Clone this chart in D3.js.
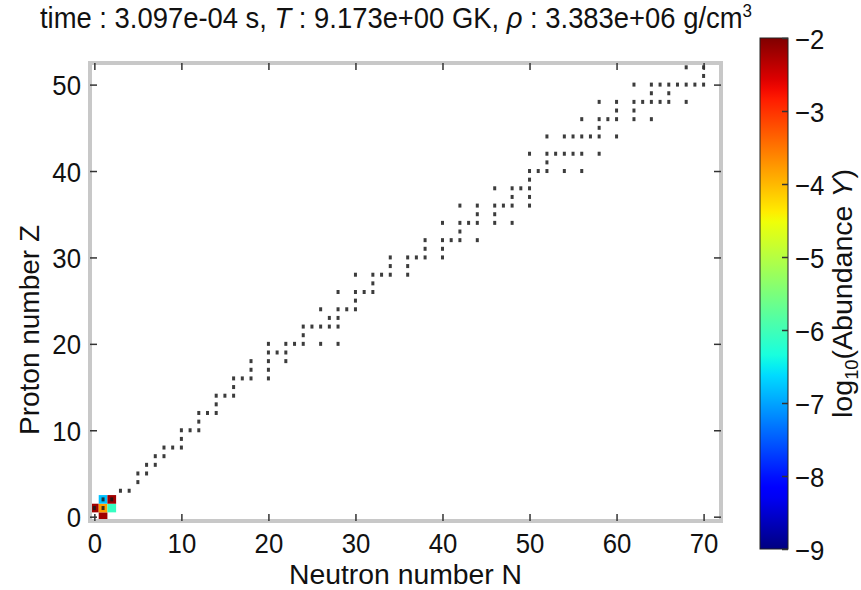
<!DOCTYPE html>
<html><head><meta charset="utf-8">
<script src="https://cdn.jsdelivr.net/npm/d3@7"></script>
<style>
body{margin:0;background:#fff}
svg{display:block}
text{font-family:"Liberation Sans",Arial,sans-serif;fill:#111}
</style>
</head><body><svg id="c" width="861" height="590"></svg>
<script>
// ---------------- data ----------------
const xTicks = [0,10,20,30,40,50,60,70];
const yTicks = [0,10,20,30,40,50];
const cbTicks = [-2,-3,-4,-5,-6,-7,-8,-9];

// light species with a visible abundance (log10 Y)
const cellNames = ["n","p","d","t","He3","He4"];
const cellN = [1,0,1,2,1,2];
const cellZ = [0,1,1,1,2,2];
const cellLogY = [-2.2,-2.2,-3.8,-6.1,-6.8,-2.2];

// network nuclei: proton number and the neutron numbers present
const netZ = [1,2,3,4,5,6,7,8,9,10,11,12,13,14,15,16,17,18,19,20,21,22,23,24,25,26,27,28,29,30,31,32,33,34,35,36,37,38,39,40,41,42,44,45,46,47,48,49,50,51,52];
const netN = [
 [0,1],[1,2],[3,4],[5],[5,6],[6,7],[7,8],[8,9,10],[10],[10,11,12],[12],[12,13,14],[14],[14,15,16],[16],
 [16,17,18,20],[18,20],[18,20,22],[20,21,22],[20,22,23,24,26,28],[24],[24,25,26,27,28],[27,28],[26,28,29,30],[30],
 [28,30,31,32],[32],[30,32,33,34,36],[34,36],[34,36,37,38,40],[38,40],[38,40,41,42,44],[42],[40,42,43,44,46,48],
 [44,46],[42,44,46,47,48,50],[48,50],[46,48,49,50],[50],[50,51,52,54,56],[52],[50,52,53,54,55,56,58],
 [52,54,55,56,57,58,60],[58],[56,58,59,60,62,64],[60,62],[58,60,62,63,64,65,66,68],[64,66],
 [62,64,65,66,67,68,69,70,72,74],[70,72],[68,70,72,74,76,78]
];

const titleStr = ["time : 3.097e-04 s, ", "T", " : 9.173e+00 GK, ", "\u03C1", " : 3.383e+06 g/cm", "3"];

// ---------------- layout ----------------
const svg = d3.select("#c");
const P = {l:90, r:721, t:63, b:521};
const x = d3.scaleLinear().domain([-0.5,72]).range([P.l,P.r]);
const y = d3.scaleLinear().domain([-0.5,52.5]).range([P.b,P.t]);
const cw = x(1)-x(0), ch = y(0)-y(1);

// jet colormap (matplotlib segment data)
const jr = d3.scaleLinear().domain([0,0.35,0.66,0.89,1]).range([0,0,1,1,0.5]).clamp(true);
const jg = d3.scaleLinear().domain([0,0.125,0.375,0.64,0.91,1]).range([0,0,1,1,0,0]).clamp(true);
const jb = d3.scaleLinear().domain([0,0.11,0.34,0.65,1]).range([0.5,1,1,0,0]).clamp(true);
const jet = t => d3.rgb(255*jr(t),255*jg(t),255*jb(t)).formatHex();
const norm = d3.scaleLinear().domain([-9,-2]).range([0,1]).clamp(true);

const defs = svg.append("defs");
defs.append("clipPath").attr("id","pc").append("rect")
  .attr("x",P.l).attr("y",P.t).attr("width",P.r-P.l).attr("height",P.b-P.t);

const cells = cellN.map((n,i)=>({N:n,Z:cellZ[i],v:cellLogY[i]}));
const nuclei = [];
netZ.forEach((z,i)=>netN[i].forEach(n=>nuclei.push({N:n,Z:z})));

const gd = svg.append("g").attr("clip-path","url(#pc)");
gd.selectAll("rect.cell").data(cells).join("rect").attr("class","cell")
  .attr("x",d=>x(d.N-0.5)).attr("y",d=>y(d.Z+0.5))
  .attr("width",cw).attr("height",ch).attr("fill",d=>jet(norm(d.v)));
gd.selectAll("rect.dot").data(nuclei).join("rect").attr("class","dot")
  .attr("x",d=>x(d.N)-1.5).attr("y",d=>y(d.Z)-2)
  .attr("width",3).attr("height",4).attr("fill","#1a1a1a").attr("opacity",0.85);

// frame
svg.append("rect").attr("x",P.l).attr("y",P.t).attr("width",P.r-P.l).attr("height",P.b-P.t)
  .attr("fill","none").attr("stroke","#c8c8c8").attr("stroke-width",4);

const FS = 28, SX = 0.92;
const LFS = 27, LSX = 1.05;
function styleAxis(g){
  g.select(".domain").remove();
  g.selectAll(".tick line").attr("stroke","#333").attr("stroke-width",1.5);
  g.selectAll(".tick text").attr("fill","#111").attr("font-size",FS).attr("font-family",'"Liberation Sans",Arial,sans-serif');
}
const fmt = d3.format("d");
const gxb = svg.append("g").attr("transform",`translate(0,${P.b})`)
  .call(d3.axisBottom(x).tickValues(xTicks).tickSize(-7).tickFormat(fmt));
styleAxis(gxb);
gxb.selectAll(".tick text").attr("y",0).attr("dy",null).attr("transform",`translate(0,32) scale(${SX},1)`);
const gxt = svg.append("g").attr("transform",`translate(0,${P.t})`)
  .call(d3.axisTop(x).tickValues(xTicks).tickSize(-7).tickFormat(""));
styleAxis(gxt);
const gyl = svg.append("g").attr("transform",`translate(${P.l},0)`)
  .call(d3.axisLeft(y).tickValues(yTicks).tickSize(-7).tickFormat(fmt));
styleAxis(gyl);
gyl.selectAll(".tick text").attr("x",0).attr("dy",null).attr("text-anchor","end")
  .attr("transform",`translate(-9,10) scale(${SX},1)`);
const gyr = svg.append("g").attr("transform",`translate(${P.r},0)`)
  .call(d3.axisRight(y).tickValues(yTicks).tickSize(-7).tickFormat(""));
styleAxis(gyr);

// axis labels
svg.append("text").attr("text-anchor","middle").attr("font-size",LFS)
  .attr("transform",`translate(${(P.l+P.r)/2},584) scale(${LSX},1)`).text("Neutron number N");
svg.append("text").attr("text-anchor","middle").attr("font-size",28)
  .attr("transform",`translate(39,330) rotate(-90)`).text("Proton number Z");

// title
const tt = svg.append("text").attr("font-size",29).attr("transform",`translate(40,28) scale(0.945,1)`);
tt.append("tspan").text(titleStr[0]);
tt.append("tspan").attr("font-style","italic").text(titleStr[1]);
tt.append("tspan").text(titleStr[2]);
tt.append("tspan").attr("font-style","italic").text(titleStr[3]);
tt.append("tspan").text(titleStr[4]);
tt.append("tspan").attr("font-size",18).attr("dy",-11).text(titleStr[5]);

// colorbar
const CB = {x:760, y:38, w:28, h:511};
const yc = d3.scaleLinear().domain([-9,-2]).range([CB.y+CB.h, CB.y]);
const grad = defs.append("linearGradient").attr("id","jetg").attr("x1",0).attr("y1",1).attr("x2",0).attr("y2",0);
d3.range(0,1.0001,0.02).forEach(t=>grad.append("stop").attr("offset",t).attr("stop-color",jet(t)));
svg.append("rect").attr("x",CB.x).attr("y",CB.y).attr("width",CB.w).attr("height",CB.h)
  .attr("fill","url(#jetg)").attr("stroke","#222").attr("stroke-width",1);
const gcb = svg.append("g").attr("transform",`translate(${CB.x+CB.w},0)`)
  .call(d3.axisRight(yc).tickValues(cbTicks).tickSize(-6).tickFormat(d3.format("d")));
styleAxis(gcb);
gcb.selectAll(".tick text").attr("x",0).attr("dy",null).attr("text-anchor","start")
  .attr("transform",`translate(7,10) scale(${SX},1)`);

const cl = svg.append("text").attr("text-anchor","middle").attr("font-size",LFS+1)
  .attr("transform",`translate(852,${CB.y+CB.h/2}) rotate(-90) scale(1.02,1)`);
cl.append("tspan").text("log");
cl.append("tspan").attr("font-size",18).attr("dy",6).text("10");
cl.append("tspan").attr("dy",-6).text("(Abundance ");
cl.append("tspan").attr("font-style","italic").text("Y");
cl.append("tspan").text(")");
</script>
</body></html>
